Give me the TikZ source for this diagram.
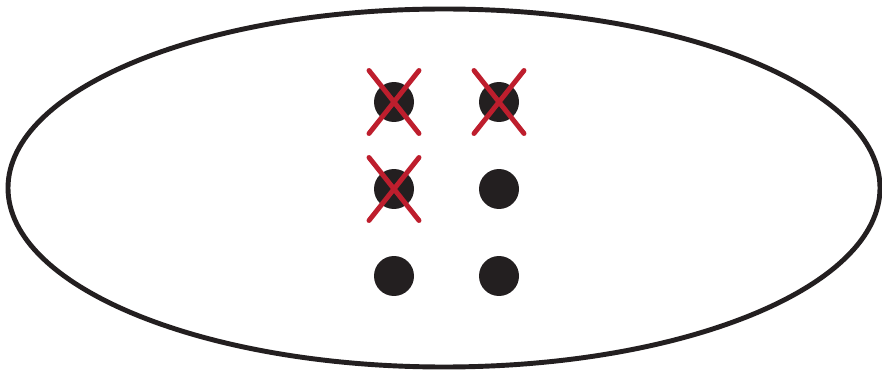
\documentclass[tikz,border=0pt]{standalone}
\usepackage{tikz}
\usetikzlibrary{calc}
\definecolor{inkdark}{HTML}{231F20}
\definecolor{crossred}{HTML}{BE1E2D}

\begin{document}
\begin{tikzpicture}[
  x=0.02cm, y=-0.02cm,
  dot/.style={circle, fill=inkdark, inner sep=0pt, minimum size=0.8cm},
  crossline/.style={draw=crossred, line width=2.8pt, line cap=round},
  outline/.style={draw=inkdark, line width=2.8pt}
]
\useasboundingbox (0,0) rectangle (882,371);

%% Outer set
\draw[outline] (444,188) ellipse [x radius=436, y radius=179];

%% Points (two columns, three rows)
\node[dot] (a1) at (394,102) {};
\node[dot] (b1) at (499,102) {};
\node[dot] (a2) at (394,189) {};
\node[dot] (b2) at (499,189) {};
\node[dot] (a3) at (394,276) {};
\node[dot] (b3) at (499,276) {};

%% Crossed-out points
\foreach \p in {a1,b1,a2}{
  \draw[crossline] ($(\p)+(-25,-31.5)$) -- ($(\p)+(25,31.5)$);
  \draw[crossline] ($(\p)+(25,-31.5)$) -- ($(\p)+(-25,31.5)$);
}

\end{tikzpicture}
\end{document}
